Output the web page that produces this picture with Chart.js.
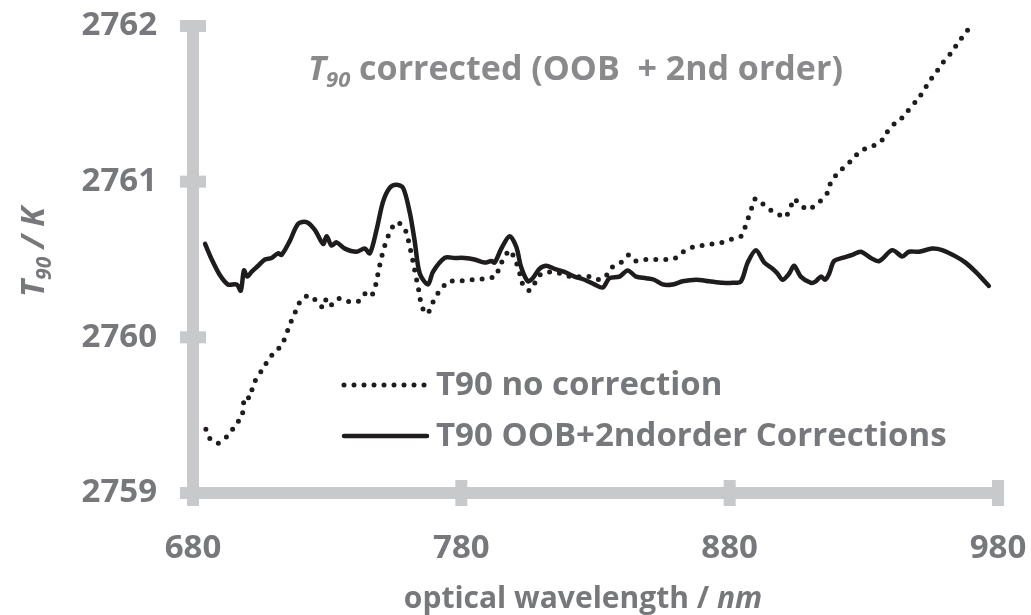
<!DOCTYPE html>
<html>
<head>
<meta charset="utf-8">
<script src="https://cdn.jsdelivr.net/npm/chart.js@4.4.1/dist/chart.umd.min.js"></script>
<style>
  html, body { margin: 0; padding: 0; background: #fff; }
  #wrap { width: 1031px; height: 615px; position: relative; }
</style>
</head>
<body>
<div id="wrap"><canvas id="chart"></canvas></div>
<script>
// wavelength (nm) and T90 (K)
const solidNm = [684.5,687.0,690.0,693.0,696.3,697.8,699.0,700.2,701.8,704.3,706.8,709.3,711.7,713.0,716.1,719.2,722.3,725.4,728.5,729.8,731.6,733.5,736.6,740.9,744.0,745.9,748.4,750.8,753.3,755.8,758.3,760.8,762.6,764.5,767.6,769.4,773.8,777.5,781.2,784.9,788.7,791.2,792.4,794.9,798.0,800.5,802.3,804.8,806.6,809.1,811.6,814.7,818.4,822.2,825.9,829.6,832.7,835.2,838.9,842.0,845.1,848.9,851.9,855.0,858.8,862.5,867.5,872.4,877.4,881.1,884.2,886.7,889.8,892.9,896.0,897.8,899.7,902.2,904.0,906.5,910.3,912.1,914.0,915.6,917.1,918.9,922.0,925.7,928.9,932.6,935.7,940.6,944.3,946.8,950.6,955.5,959.2,964.2,967.9,971.7,976.6];
const solidT = [2760.60,2760.50,2760.40,2760.34,2760.34,2760.30,2760.43,2760.39,2760.42,2760.46,2760.50,2760.51,2760.54,2760.53,2760.62,2760.73,2760.74,2760.69,2760.60,2760.65,2760.59,2760.61,2760.57,2760.55,2760.57,2760.54,2760.69,2760.87,2760.96,2760.98,2760.96,2760.80,2760.62,2760.41,2760.34,2760.42,2760.51,2760.51,2760.51,2760.50,2760.48,2760.49,2760.48,2760.57,2760.65,2760.58,2760.45,2760.36,2760.38,2760.44,2760.46,2760.44,2760.42,2760.39,2760.37,2760.34,2760.32,2760.38,2760.39,2760.43,2760.39,2760.38,2760.37,2760.34,2760.34,2760.36,2760.37,2760.36,2760.35,2760.35,2760.36,2760.48,2760.56,2760.48,2760.44,2760.41,2760.37,2760.41,2760.46,2760.39,2760.35,2760.36,2760.39,2760.37,2760.41,2760.49,2760.51,2760.53,2760.55,2760.51,2760.49,2760.56,2760.52,2760.55,2760.55,2760.57,2760.56,2760.52,2760.48,2760.42,2760.33];

const dotNm = [684.8,686.3,689.4,692.5,694.8,696.9,698.3,698.7,699.4,701.2,702.2,703.7,705.7,707.9,710.1,712.6,714.4,715.6,717.0,718.6,720.2,723.2,726.3,728.5,729.8,731.6,734.3,737.8,741.5,744.0,746.2,747.7,748.6,749.3,750.2,751.1,752.3,753.7,755.9,758.6,759.9,760.8,761.6,762.4,763.1,763.8,764.5,765.1,767.3,768.8,770.3,772.6,775.0,778.7,782.5,786.0,789.4,792.9,794.1,795.9,798.0,799.8,801.1,802.1,803.1,805.5,807.8,809.8,813.2,816.8,820.7,824.4,828.1,831.8,834.2,836.2,839.5,842.4,845.1,848.9,852.6,856.3,859.8,862.7,866.2,869.7,873.4,877.1,880.7,884.3,885.8,887.0,888.2,889.5,892.2,895.0,898.2,900.7,902.6,904.0,906.3,909.5,912.5,914.8,916.8,917.9,920.2,923.0,925.7,928.2,931.6,935.0,937.5,939.4,941.9,945.0,947.1,949.6,951.8,953.9,955.9,958.1,960.5,962.7,965.0,967.2,969.4];
const dotT = [2759.41,2759.35,2759.32,2759.36,2759.41,2759.46,2759.49,2759.56,2759.62,2759.61,2759.68,2759.74,2759.79,2759.85,2759.90,2759.94,2760.00,2760.06,2760.12,2760.18,2760.24,2760.27,2760.23,2760.19,2760.25,2760.21,2760.25,2760.23,2760.23,2760.28,2760.26,2760.31,2760.38,2760.44,2760.51,2760.57,2760.63,2760.69,2760.74,2760.71,2760.65,2760.58,2760.52,2760.45,2760.39,2760.33,2760.27,2760.20,2760.15,2760.20,2760.26,2760.31,2760.36,2760.36,2760.37,2760.37,2760.38,2760.39,2760.45,2760.51,2760.56,2760.51,2760.45,2760.39,2760.33,2760.30,2760.36,2760.41,2760.42,2760.41,2760.39,2760.39,2760.39,2760.37,2760.40,2760.45,2760.48,2760.53,2760.49,2760.50,2760.50,2760.50,2760.51,2760.55,2760.58,2760.59,2760.60,2760.61,2760.63,2760.65,2760.71,2760.77,2760.83,2760.89,2760.86,2760.82,2760.79,2760.77,2760.83,2760.89,2760.85,2760.82,2760.86,2760.89,2760.94,2761.01,2761.05,2761.10,2761.14,2761.19,2761.22,2761.24,2761.28,2761.34,2761.38,2761.42,2761.47,2761.52,2761.57,2761.63,2761.68,2761.73,2761.79,2761.83,2761.89,2761.94,2761.99];

const seriesNames = ['T90 no correction', 'T90 OOB+2ndorder Corrections'];
const xTicks = [680, 780, 880, 980];
const yTicks = [2759, 2760, 2761, 2762];

const FONT = '"Open Sans", "DejaVu Sans", sans-serif';
const axisGrey = '#c8c9ca';
const textGrey = '#77787b';
const lineBlack = '#1e1c1d';

function pairs(xs, ys) {
  const out = [];
  for (let i = 0; i < Math.min(xs.length, ys.length); i++) out.push({ x: xs[i], y: ys[i] });
  return out;
}

// draw a run of text pieces with their own fonts / vertical shifts
function richText(ctx, parts, x, y, align) {
  let w = 0;
  parts.forEach(p => { ctx.font = p.font; w += ctx.measureText(p.t).width; });
  let cx = align === 'center' ? x - w / 2 : x;
  parts.forEach(p => {
    ctx.font = p.font;
    ctx.fillText(p.t, cx, y + (p.dy || 0));
    cx += ctx.measureText(p.t).width;
  });
}

// tick stubs crossing the thick axis lines
const axisStubs = {
  id: 'axisStubs',
  beforeDatasetsDraw(chart) {
    const { ctx, chartArea, scales } = chart;
    ctx.save();
    ctx.fillStyle = axisGrey;
    xTicks.forEach(v => {
      const px = scales.x.getPixelForValue(v);
      ctx.fillRect(px - 6, chartArea.bottom - 13, 12, 26);
    });
    yTicks.forEach(v => {
      const py = scales.y.getPixelForValue(v);
      ctx.fillRect(chartArea.left - 13, py - 6, 26, 12);
    });
    ctx.restore();
  }
};

const textLayer = {
  id: 'textLayer',
  afterDraw(chart) {
    const ctx = chart.ctx;
    ctx.save();
    ctx.textBaseline = 'alphabetic';

    // title inside the plot
    ctx.fillStyle = '#8a8a8c';
    richText(ctx, [
      { t: 'T', font: 'italic bold 34px ' + FONT },
      { t: '90', font: 'italic bold 22px ' + FONT, dy: 7 },
      { t: ' corrected (OOB  + 2nd order)', font: 'bold 34px ' + FONT }
    ], 308, 80, 'left');

    // y axis title
    ctx.fillStyle = textGrey;
    ctx.save();
    ctx.translate(44, 252);
    ctx.rotate(-Math.PI / 2);
    richText(ctx, [
      { t: 'T', font: 'italic bold 32px ' + FONT },
      { t: '90', font: 'italic bold 21px ' + FONT, dy: 7 },
      { t: ' / K', font: 'italic bold 32px ' + FONT }
    ], 0, 0, 'center');
    ctx.restore();

    // x axis title
    richText(ctx, [
      { t: 'optical wavelength / ', font: 'bold 30px ' + FONT },
      { t: 'nm', font: 'italic bold 30px ' + FONT }
    ], 583, 608, 'center');

    // legend
    const rows = [385, 436];
    chart.data.datasets.forEach((ds, i) => {
      const y = rows[i];
      ctx.strokeStyle = ds.borderColor;
      ctx.lineWidth = ds.borderWidth;
      ctx.lineCap = ds.borderCapStyle;
      ctx.setLineDash(ds.borderDash || []);
      ctx.beginPath();
      ctx.moveTo(344, y);
      ctx.lineTo(427, y);
      ctx.stroke();
      ctx.setLineDash([]);
      ctx.fillStyle = textGrey;
      ctx.textBaseline = 'middle';
      ctx.font = 'bold 33px ' + FONT;
      ctx.fillText(ds.label, 436, y + 1);
    });
    ctx.restore();
  }
};

new Chart(document.getElementById('chart'), {
  type: 'line',
  data: {
    datasets: [
      {
        label: seriesNames[0],
        data: pairs(dotNm, dotT),
        borderColor: lineBlack,
        borderWidth: 5,
        borderDash: [0, 10],
        borderCapStyle: 'round',
        pointRadius: 0,
        tension: 0.2,
        fill: false
      },
      {
        label: seriesNames[1],
        data: pairs(solidNm, solidT),
        borderColor: lineBlack,
        borderWidth: 4.5,
        borderCapStyle: 'round',
        borderJoinStyle: 'round',
        pointRadius: 0,
        tension: 0.3,
        fill: false
      }
    ]
  },
  options: {
    responsive: true,
    maintainAspectRatio: false,
    animation: false,
    devicePixelRatio: 1,
    layout: { padding: { top: 26, right: 33, left: 0, bottom: 0 } },
    plugins: {
      legend: { display: false },
      tooltip: { enabled: false }
    },
    scales: {
      x: {
        type: 'linear',
        min: 680,
        max: 980,
        afterFit: s => { s.height = 122; },
        afterBuildTicks: s => { s.ticks = xTicks.map(v => ({ value: v })); },
        grid: { display: true, drawOnChartArea: false, drawTicks: true, tickLength: 36, color: 'rgba(0,0,0,0)' },
        border: { display: true, width: 12, color: axisGrey },
        ticks: {
          padding: 0,
          color: textGrey,
          font: { family: FONT, size: 33, weight: 'bold' }
        }
      },
      y: {
        type: 'linear',
        min: 2759,
        max: 2762,
        afterFit: s => { s.width = 193; },
        afterBuildTicks: s => { s.ticks = yTicks.map(v => ({ value: v })); },
        grid: { display: true, drawOnChartArea: false, drawTicks: true, tickLength: 36, color: 'rgba(0,0,0,0)' },
        border: { display: true, width: 12, color: axisGrey },
        ticks: {
          padding: 0,
          color: textGrey,
          font: { family: FONT, size: 33, weight: 'bold' },
          callback: v => String(v)
        }
      }
    }
  },
  plugins: [axisStubs, textLayer]
});
</script>
</body>
</html>
